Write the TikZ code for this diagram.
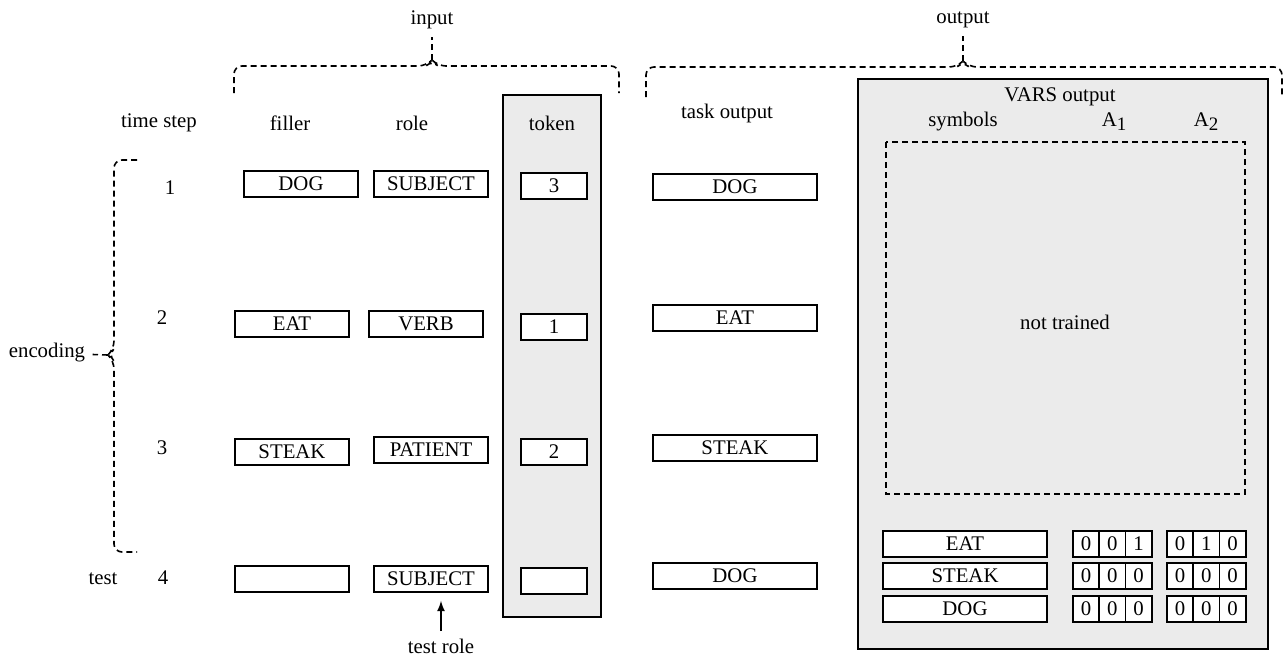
\documentclass[tikz,border=0pt]{standalone}
\usepackage{fontspec}
\setmainfont{Liberation Serif}
\usepackage{tikz}

\begin{document}
\begin{tikzpicture}[x=0.5pt,y=-0.5pt,line width=0.8pt,font=\fontsize{10.4}{12}\selectfont]
            \tikzstyle{slot}=[rectangle,draw=black,fill=white,minimum width=57pt,minimum height=13pt,inner sep=0pt,text height=6.9pt,text depth=0pt]
            \tikzstyle{token slot}=[slot,minimum width=33pt]
            \tikzstyle{task slot}=[slot,minimum width=82pt]
            \tikzstyle{bit}=[slot,minimum width=13.2pt]
            \tikzstyle{panel}=[draw=black,fill=black!8]
            \tikzstyle{brace}=[dash pattern=on 3pt off 2pt,rounded corners=4pt]
            \newcommand{\sub}[1]{\raisebox{-0.4ex}{\fontsize{9.5}{10}\selectfont #1}}
            \useasboundingbox (0,0) rectangle (1285,655);

            % grey panels
            \draw[panel] (503,95) rectangle (601,617);
            \draw[panel] (858,79) rectangle (1268,649);
            \draw[brace,rounded corners=0pt] (886,142) rectangle (1245,494);

            % labels
                    \node (L-input) at (432,20) {input};
                    \node (L-output) at (963,20) {output};
                    \node (L-enc) at (47,353) {encoding};
                    \node (H-step) at (159,123) {time step};
                    \node (H-filler) at (290,123) {filler};
                    \node (H-role) at (412,123) {role};
                    \node (H-token) at (552,123) {token};
                    \node (H-task) at (727,113) {task output};
                    \node (H-vars) at (1060,97) {VARS output};
                    \node (H-sym) at (963,122) {symbols};
                    \node (H-a1) at (1114,122) {A\sub{1}};
                    \node (H-a2) at (1206,122) {A\sub{2}};
                    \node (L-nt) at (1065,322) {not trained};
                    \node (L-test) at (103,579) {test};
                    \node (L-trole) at (441,646) {test role};

            % braces
            \draw[brace] (234,93) -- (234,66) -- (426,66) -- (432,60) -- (438,66) -- (619,66) -- (619,93);
            \draw[brace] (432,60) -- (L-input);
            \draw[brace] (646,97) -- (646,67) -- (957,67) -- (963,61) -- (969,67) -- (1282,67) -- (1282,97);
            \draw[brace] (963,61) -- (L-output);
            \draw[brace] (137,160) -- (114,160) -- (114,349) -- (108,355) -- (114,361) -- (114,552) -- (137,552);
            \draw[brace] (108,355) -- (L-enc);

            % rows
                \foreach \n/\x/\y in {1/170/188, 2/162/318, 3/162/448, 4/163/578}
                    \node (S-\n) at (\x,\y) {\n};
                \foreach \n/\x/\y/\txt in {1/301/184/DOG, 2/292/324/EAT, 3/292/452/STEAK, 4/292/579/{}}
                    \node[slot] (F-\n) at (\x,\y) {\txt};
                \foreach \n/\x/\y/\txt in {1/431/184/SUBJECT, 2/426/324/VERB, 3/431/450/PATIENT, 4/431/579/SUBJECT}
                    \node[slot] (R-\n) at (\x,\y) {\txt};
                \foreach \n/\y/\txt in {1/186/3, 2/327/1, 3/452/2, 4/581/{}}
                    \node[token slot] (T-\n) at (554,\y) {\txt};
                \foreach \n/\y/\txt in {1/187/DOG, 2/318/EAT, 3/448/STEAK, 4/576/DOG}
                    \node[task slot] (O-\n) at (735,\y) {\txt};

            % VARS symbol table
                \foreach \n/\y/\txt/\a/\b/\c/\d/\e/\f in {1/544/EAT/0/0/1/0/1/0, 2/576/STEAK/0/0/0/0/0/0, 3/609/DOG/0/0/0/0/0/0}
                {
                    \node[task slot] (V-\n) at (965,\y) {\txt};
                    \node[bit] (A-\n-1) at (1086,\y) {\a};
                    \node[bit] (A-\n-2) at (1112.3,\y) {\b};
                    \node[bit] (A-\n-3) at (1138.6,\y) {\c};
                    \node[bit] (B-\n-1) at (1180,\y) {\d};
                    \node[bit] (B-\n-2) at (1206.3,\y) {\e};
                    \node[bit] (B-\n-3) at (1232.6,\y) {\f};
                }

            \draw[-latex,shorten >=4pt] (L-trole.north) -- (L-trole.north |- R-4.south);
        \end{tikzpicture}
\end{document}
